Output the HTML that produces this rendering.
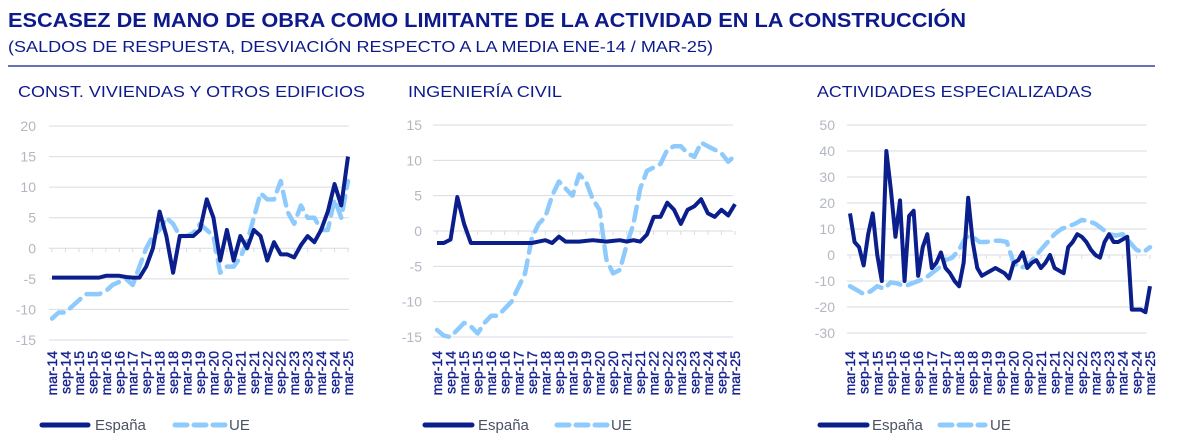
<!DOCTYPE html>
<html><head><meta charset="utf-8">
<style>
html,body{margin:0;padding:0;background:#fff;}
svg{display:block;font-family:"Liberation Sans",Arial,sans-serif;}
</style></head>
<body>
<svg id="root" width="1182" height="445" viewBox="0 0 1182 445">
  <text x="8" y="27" font-size="20" font-weight="bold" fill="#0d1a8c" textLength="958" lengthAdjust="spacingAndGlyphs">ESCASEZ DE MANO DE OBRA COMO LIMITANTE DE LA ACTIVIDAD EN LA CONSTRUCCIÓN</text>
  <text x="8" y="52" font-size="16" fill="#0d1a8c" textLength="705" lengthAdjust="spacingAndGlyphs">(SALDOS DE RESPUESTA, DESVIACIÓN RESPECTO A LA MEDIA ENE-14 / MAR-25)</text>
  <line x1="8" y1="66" x2="1155" y2="66" stroke="#0d1a8c" stroke-width="1.3"/>
  <text x="18" y="97" font-size="16" fill="#0d1a8c" textLength="347" lengthAdjust="spacingAndGlyphs">CONST. VIVIENDAS Y OTROS EDIFICIOS</text>
  <text x="408" y="97" font-size="16" fill="#0d1a8c" textLength="154" lengthAdjust="spacingAndGlyphs">INGENIERÍA CIVIL</text>
  <text x="817" y="97" font-size="16" fill="#0d1a8c" textLength="275" lengthAdjust="spacingAndGlyphs">ACTIVIDADES ESPECIALIZADAS</text>
</svg>
<script>
// ---- data ----
const xLabels = ["mar-14","sep-14","mar-15","sep-15","mar-16","sep-16","mar-17","sep-17","mar-18","sep-18","mar-19","sep-19","mar-20","sep-20","mar-21","sep-21","mar-22","sep-22","mar-23","sep-23","mar-24","sep-24","mar-25"];
const ticks1 = [20,15,10,5,0,-5,-10,-15];
const ticks2 = [15,10,5,0,-5,-10,-15];
const ticks3 = [50,40,30,20,10,0,-10,-20,-30];
// quarterly series (mar-14 .. mar-25)
const esp1 = [-4.8,-4.8,-4.8,-4.8,-4.8,-4.8,-4.8,-4.8,-4.5,-4.5,-4.5,-4.7,-4.8,-4.8,-3,0,6,2,-4,2,2,2,3,8,5,-2,3,-2,2,0,3,2,-2,1,-1,-1,-1.5,0.5,2,1,3,6,10.5,7,15];
const ue1 = [-11.5,-10.5,-10.5,-9.5,-8.5,-7.5,-7.5,-7.5,-7,-6,-5.5,-5,-6,-3,0,2,3,5,4,2,2,2.5,4,3,2,-4,-3,-3,-1.5,1,5,9,8,8,11,6,4,7,5,5,3,3,8,5,11];
const esp2 = [-1.7,-1.7,-1.2,4.8,1,-1.7,-1.7,-1.7,-1.7,-1.7,-1.7,-1.7,-1.7,-1.7,-1.7,-1.5,-1.3,-1.7,-0.8,-1.5,-1.5,-1.5,-1.4,-1.3,-1.4,-1.5,-1.4,-1.3,-1.5,-1.3,-1.5,-0.5,2,2,4,3,1,3,3.5,4.5,2.5,2,3,2.2,3.8];
const ue2 = [-14,-14.8,-15,-14,-13,-13.5,-14.5,-13,-12,-12,-11,-10,-8,-6,-1,1,2,5,7,6,5,8,7,4.5,3,-4,-6,-5.5,-2,1,6,8.5,9,9.5,11.5,12,12,11,10.5,12.5,12,11.5,11,9.8,10.7];
// bimonthly series (mar-14 .. mar-25)
const esp3 = [16,5,3,-4,8,16,0,-10,40,25,7,21,-10,15,17,-8,3,8,-5,-3,1,-5,-7,-10,-12,-3,22,5,-5,-8,-7,-6,-5,-6,-7,-9,-3,-2,1,-5,-3,-2,-5,-3,0,-5,-6,-7,3,5,8,7,5,2,0,-1,5,8,5,5,6,7,-21,-21,-21,-22,-12];
const ue3 = [-12,-13.5,-15,-14,-12,-13,-10.5,-11,-12,-11,-10,-9,-7,-5,-2,-1,2,7,7,5,5,5.5,5.5,5,-3,-5,-4,-1,2,5,8,10,11,12,13.5,13,12,10,8,7.5,8,5,2,1,3];

const NS = "http://www.w3.org/2000/svg";
const root = document.getElementById('root');
function mk(tag, attrs, parent){const e=document.createElementNS(NS,tag);for(const k in attrs)e.setAttribute(k,attrs[k]);(parent||root).appendChild(e);return e;}

const panels = [
 {x0:49, x1:349, lx0:52, lx1:348, yTop:20, yBot:-15, pyTop:126, pyBot:340, ticks:ticks1, labRight:36, esp:esp1, ue:ue1, leg:[42,88,95,175,225,229]},
 {x0:433, x1:733, lx0:437, lx1:735, yTop:15, yBot:-15, pyTop:125, pyBot:337, ticks:ticks2, labRight:422, esp:esp2, ue:ue2, leg:[425,472,478,557,607,611]},
 {x0:847, x1:1147, lx0:850, lx1:1150, yTop:50, yBot:-30, pyTop:125, pyBot:333, ticks:ticks3, labRight:835, esp:esp3, ue:ue3, leg:[820,867,872,940,985,990]}
];

panels.forEach((p,pi)=>{
  const g = mk('g',{});
  
  
  const yS = v => p.pyTop + (p.yTop - v) * (p.pyBot - p.pyTop) / (p.yTop - p.yBot);
  const xS = f => p.lx0 + f * (p.lx1 - p.lx0);
  p.ticks.forEach(t=>{
    const ln = mk('line',{x1:p.x0,x2:p.x1,y1:yS(t),y2:yS(t),stroke:'#d9dbe0','stroke-width':1},g);
    
    
    const tx = mk('text',{x:p.labRight,y:yS(t)+5,'text-anchor':'end','font-size':14,fill:'#b3b7c2'},g);
    tx.textContent = t;
    
    
  });
  xLabels.forEach((l,i)=>{
    const x = xS(i/(xLabels.length-1));
    const tk = mk('line',{x1:x,x2:x,y1:yS(0),y2:yS(0)+4,stroke:'#d9dbe0','stroke-width':1},g);
    
    
    const tx = mk('text',{x:0,y:0,'text-anchor':'end','font-size':14,fill:'#14208f',stroke:'#14208f','stroke-width':0.35,transform:`translate(${x+5},351) rotate(-90)`},g);
    tx.textContent = l;
    
    
  });
  const path = arr => arr.map((v,i)=>(i?'L':'M')+xS(i/(arr.length-1)).toFixed(2)+','+yS(v).toFixed(2)).join(' ');
  const ue = mk('path',{d:path(p.ue),fill:'none',stroke:'#8ecbfc','stroke-width':4.5,'stroke-dasharray':'14 8','stroke-linejoin':'round','stroke-linecap':'round'},g);
  
  
  const es = mk('path',{d:path(p.esp),fill:'none',stroke:'#0a1e8c','stroke-width':4,'stroke-linejoin':'round'},g);
  
  
  const L = p.leg;
  const l1 = mk('line',{x1:L[0],x2:L[1],y1:425,y2:425,stroke:'#0a1e8c','stroke-width':5,'stroke-linecap':'round'},g);
  
  
  const t1 = mk('text',{x:L[2],y:430,'font-size':15,fill:'#4a5263'},g);
  t1.textContent='España';
  
  
  const l2 = mk('line',{x1:L[3],x2:L[4],y1:425,y2:425,stroke:'#8ecbfc','stroke-width':5,'stroke-dasharray':'12 7','stroke-linecap':'round'},g);
  
  
  const t2 = mk('text',{x:L[5],y:430,'font-size':15,fill:'#4a5263'},g);
  t2.textContent='UE';
  
  
});
</script>
</body></html>
